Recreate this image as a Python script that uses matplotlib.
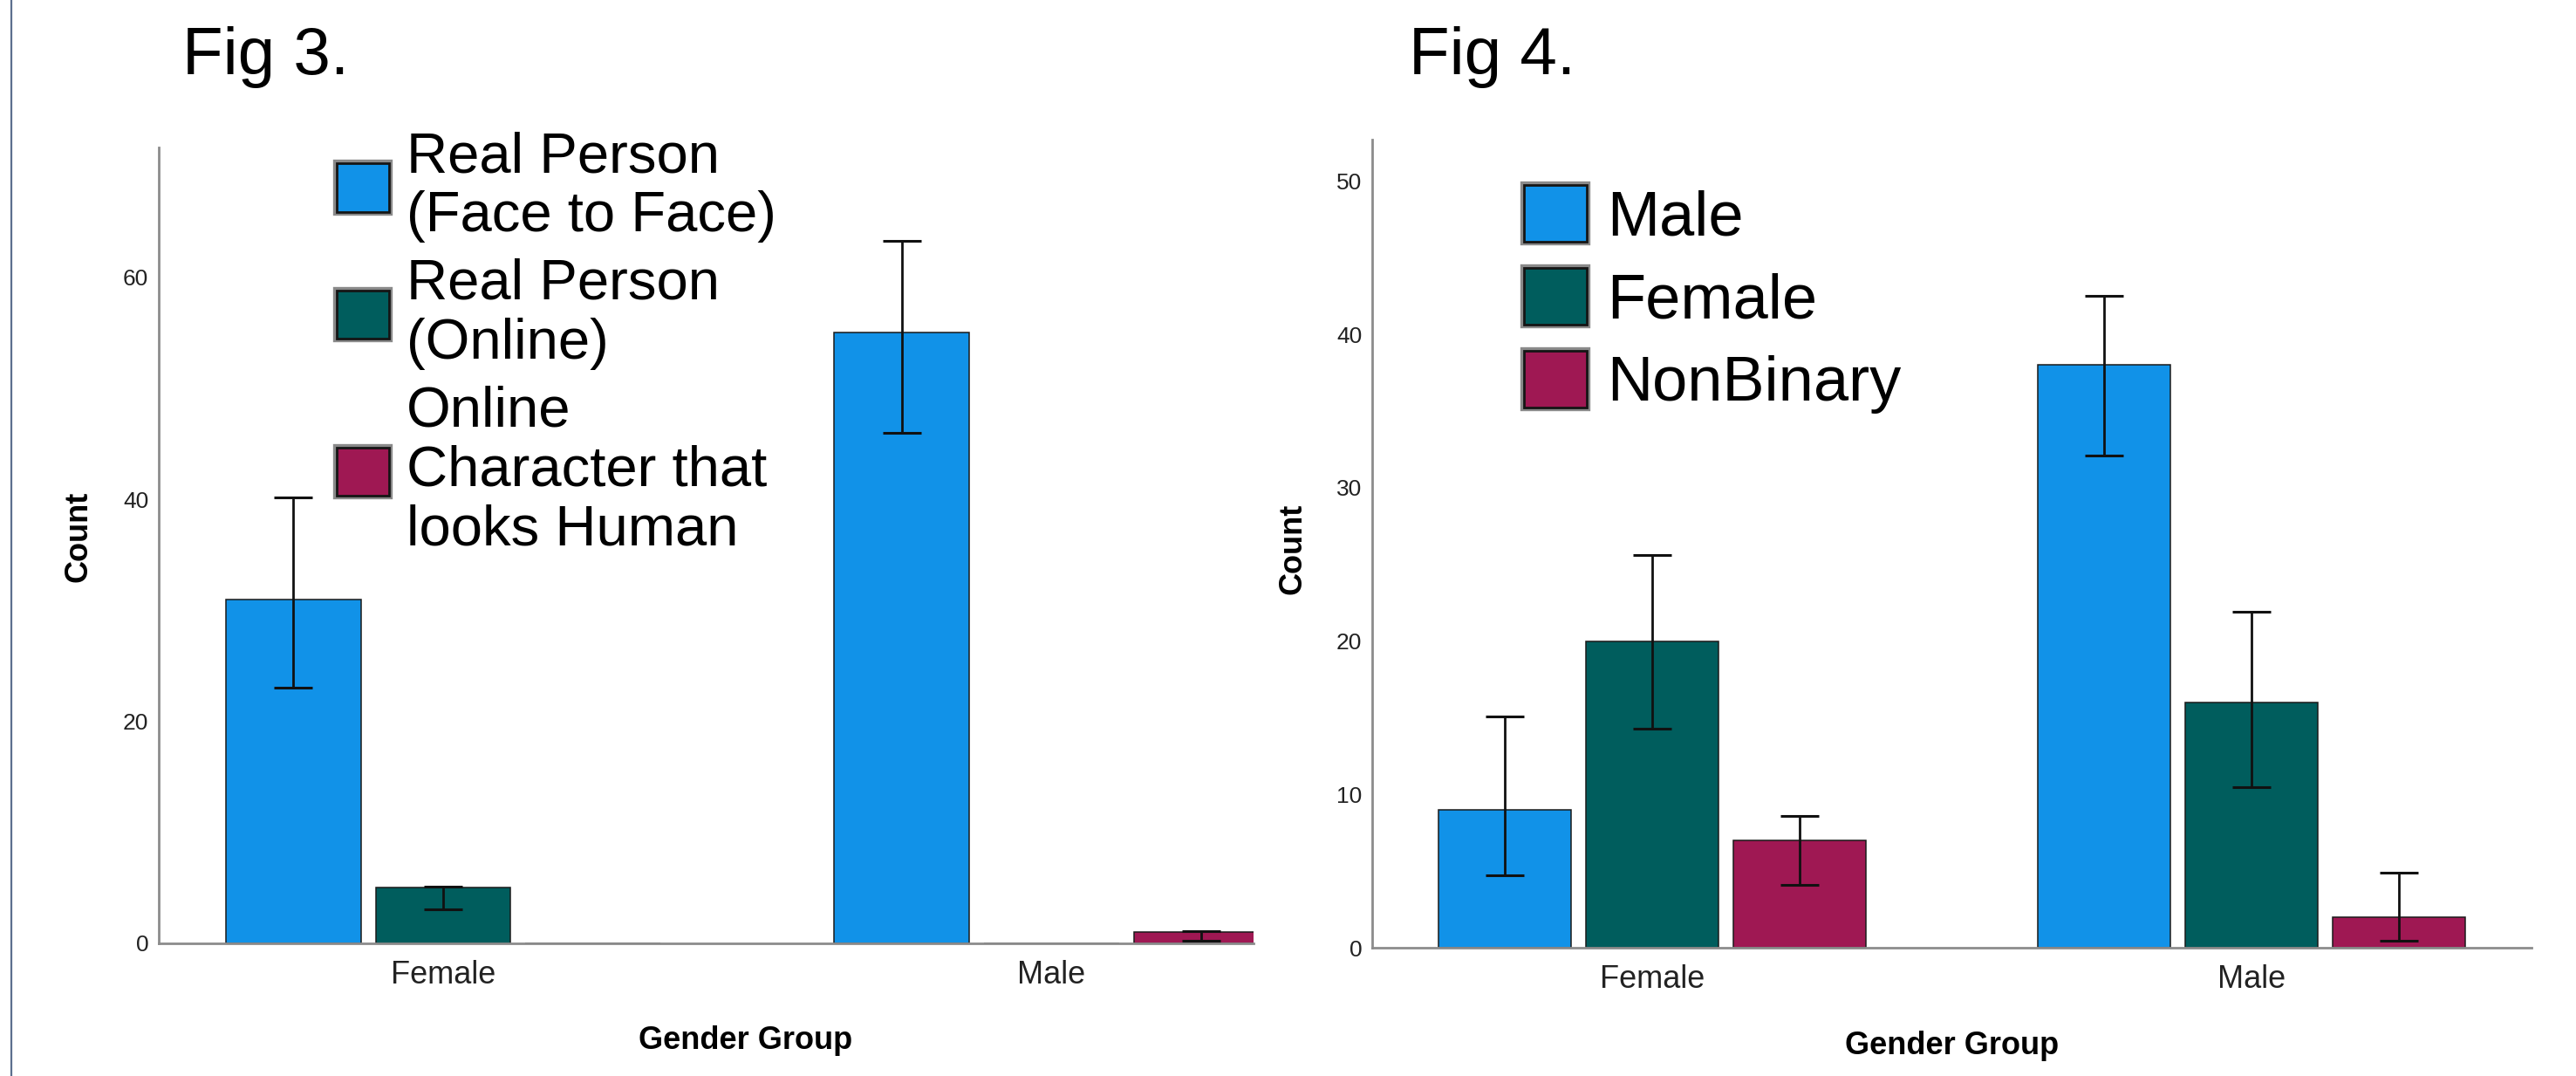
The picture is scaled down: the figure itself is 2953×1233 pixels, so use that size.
import numpy as np
import matplotlib.pyplot as plt
import matplotlib.patheffects as pe
from matplotlib.lines import Line2D

plt.rcParams['font.family'] = ['Liberation Sans', 'DejaVu Sans']

#### data ####
groups = ['Female', 'Male']

# Fig 3 - type of partner
fig3_series = ['Real Person\n(Face to Face)', 'Real Person\n(Online)',
               'Online\nCharacter that\nlooks Human']
fig3_counts = [[31, 55], [5, 0], [0, 1]]
fig3_ci_low = [[23, 46], [3.1, 0], [0, 0.2]]
fig3_ci_high = [[40.2, 63.3], [5.1, 0], [0, 1.1]]

# Fig 4 - gender of partner
fig4_series = ['Male', 'Female', 'NonBinary']
fig4_counts = [[9, 38], [20, 16], [7, 2]]
fig4_ci_low = [[4.7, 32.1], [14.3, 10.5], [4.1, 0.45]]
fig4_ci_high = [[15.1, 42.5], [25.6, 21.9], [8.6, 4.9]]

colors = ['#1192e8', '#005d5d', '#9f1853']

W, H = 2953, 1233
fig = plt.figure(figsize=(W / 100, H / 100), dpi=100)

def px_axes(x0, x1, ytop, ybot):
    # axes rectangle given in pixel coords of the full picture
    return fig.add_axes([x0 / W, 1 - ybot / H, (x1 - x0) / W, (ybot - ytop) / H])

def draw(ax, series, counts, lo, hi, xlim, ylim, yticks):
    x = np.arange(len(groups))
    step, width = 0.246, 0.222
    for i, name in enumerate(series):
        xs = x + (i - 1) * step
        c = np.array(counts[i], dtype=float)
        ax.bar(xs, c, width, color=colors[i], edgecolor='#1a1a1a', linewidth=1.1,
               label=name, zorder=2)
        yerr = [c - np.array(lo[i]), np.array(hi[i]) - c]
        has = np.array(hi[i]) > 0
        ax.errorbar(xs[has], c[has], yerr=[yerr[0][has], yerr[1][has]], fmt='none',
                    ecolor='#111111', elinewidth=2, capsize=15.5, capthick=2.2, zorder=3)
    ax.set_xlim(*xlim)
    ax.set_ylim(*ylim)
    ax.set_xticks(x)
    ax.set_xticklabels(groups)
    ax.set_yticks(yticks)
    ax.tick_params(axis='x', length=0, pad=14, labelsize=26, labelcolor='#222222')
    ax.tick_params(axis='y', length=0, pad=8.5, labelsize=19, labelcolor='#222222')
    for s in ['top', 'right']:
        ax.spines[s].set_visible(False)
    for s in ['left', 'bottom']:
        ax.spines[s].set_color('#8c8c8c')
        ax.spines[s].set_linewidth(2)
    ax.set_ylabel('Count', fontsize=26, fontweight='bold')
    ax.set_xlabel('Gender Group', fontsize=26, fontweight='bold')
    ax.xaxis.label.set_verticalalignment('center')
    ax.yaxis.label.set_verticalalignment('center')

def style_legend(leg, spacing):
    for t in leg.get_texts():
        t.set_linespacing(spacing)
    for h in leg.legend_handles:
        h.set_edgecolor('#151515')
        h.set_linewidth(2)
        h.set_path_effects([pe.Stroke(linewidth=6, foreground='#8a8a8a'), pe.Normal()])

# Fig 3
ax1 = px_axes(182, 1437, 169, 1081)
draw(ax1, fig3_series, fig3_counts, fig3_ci_low, fig3_ci_high,
     (-0.4674, 1.3319), (0, 71.7), [0, 20, 40, 60])
ax1.xaxis.set_label_coords(0.536, -0.1228)
ax1.yaxis.set_label_coords(-0.0733, 0.511)
leg1 = ax1.legend(loc='upper left', bbox_to_anchor=(386 / W, 1 - 150 / H),
                  bbox_transform=fig.transFigure, frameon=False, fontsize=47,
                  handlelength=0.92, handleheight=0.92, handletextpad=0.3,
                  labelspacing=0.27, borderpad=0, borderaxespad=0)
style_legend(leg1, 1.17)
fig.text(209 / W, 1 - 85 / H, 'Fig 3.', fontsize=55, ha='left', va='baseline')

# Fig 4
ax2 = px_axes(1573, 2902, 160, 1086)
draw(ax2, fig4_series, fig4_counts, fig4_ci_low, fig4_ci_high,
     (-0.467, 1.467), (0, 52.7), [0, 10, 20, 30, 40, 50])
ax2.xaxis.set_label_coords(0.5, -0.121)
ax2.yaxis.set_label_coords(-0.0685, 0.494)
leg2 = ax2.legend(loc='upper left', bbox_to_anchor=(1747 / W, 1 - 212 / H),
                  bbox_transform=fig.transFigure, frameon=False, fontsize=52,
                  handlelength=1.0, handleheight=1.0, handletextpad=0.32,
                  labelspacing=0.32, borderpad=0, borderaxespad=0)
style_legend(leg2, 1.0)
fig.text(1615 / W, 1 - 85 / H, 'Fig 4.', fontsize=55, ha='left', va='baseline')

# thin frame line on the left edge of the slide
fig.add_artist(Line2D([13 / W, 13 / W], [0, 1], transform=fig.transFigure,
                      color='#5d6f8e', linewidth=1.6))

fig.savefig('out.png', dpi=100, facecolor='white')
